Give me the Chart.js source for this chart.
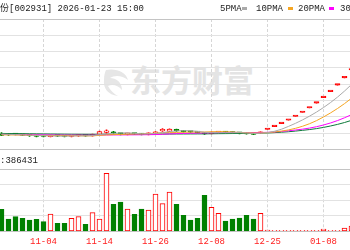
<!DOCTYPE html>
<html>
<head>
<meta charset="utf-8">
<script src="https://cdn.jsdelivr.net/npm/chart.js@4.4.1/dist/chart.umd.min.js"></script>
<style>
html, body { margin: 0; padding: 0; background: #fff; overflow: hidden; }
#wrap { position: relative; width: 350px; height: 250px; overflow: hidden;
  font-family: "Liberation Mono", monospace; font-size: 9px; color: #222; }
canvas { position: absolute; left: 0; }
#kline { top: 0; }
#vol { top: 160px; }
.t { position: absolute; white-space: nowrap; line-height: 10px; }
.sw { position: absolute; width: 5px; height: 3px; top: 7px; }
#wm { position: absolute; left: 130px; top: 63px; font: bold 31px/31px "Noto Sans CJK SC"; color: #e4e4e4; white-space: nowrap; }
#logo { position: absolute; left: 102px; top: 66px; }
</style>
</head>
<body>
<div id="wrap">
  <svg id="logo" width="28" height="32" viewBox="0 0 28 32">
    <path d="M4 4 C14 2 24 6 26 14 C20 9 12 9 8 12 C14 12 20 16 20 24 C16 19 10 18 6 20 C8 24 12 28 16 30 C6 29 1 22 2 14 C2 9 3 6 4 4 Z" fill="#e6e6e6"/>
  </svg>
  <div id="wm">东方财富</div>
  <canvas id="kline" width="350" height="160"></canvas>
  <canvas id="vol" width="350" height="90"></canvas>
  <div class="t" style="right:341px;top:3px;font-family:'Noto Sans CJK SC';font-size:9px;">锋龙股份</div>
  <div class="t" style="left:9px;top:4px;">[002931] 2026-01-23 15:00</div>
  <div class="t" style="left:220px;top:4px;">5PMA</div>
  <div class="sw" style="left:242px;background:#aaaaaa;"></div>
  <div class="t" style="left:256px;top:4px;">10PMA</div>
  <div class="sw" style="left:288px;background:#f5a623;"></div>
  <div class="t" style="left:298px;top:4px;">20PMA</div>
  <div class="sw" style="left:329px;background:#ff00ff;"></div>
  <div class="t" style="left:340px;top:4px;">30PMA</div>
  <div class="t" style="left:0px;top:156px;">:386431</div>
</div>
<script>
// trading days, the first and last ones are partly cut off by the frame
const dates = ['10-27','10-28','10-29','10-30','10-31','11-03','11-04','11-05','11-06','11-07',
  '11-10','11-11','11-12','11-13','11-14','11-17','11-18','11-19','11-20','11-21',
  '11-24','11-25','11-26','11-27','11-28','12-01','12-02','12-03','12-04','12-05',
  '12-08','12-09','12-10','12-11','12-12','12-15','12-16','12-17','12-25','12-26',
  '12-29','12-30','12-31','01-05','01-06','01-07','01-08','01-09','01-12','01-13','01-14'];
const tickLabels = ['11-04','11-14','11-26','12-08','12-25','01-08'];

const open = [16.02,16.16,15.89,15.61,15.20,14.92,14.79,14.24,14.92,14.65,
  14.31,14.65,15.13,14.72,15.75,17.13,17.54,16.23,15.82,16.37,
  16.16,15.75,16.51,18.09,17.88,19.19,18.09,17.68,17.26,16.99,
  16.30,16.99,17.40,17.06,16.78,16.51,16.16,16.57,19.14,21.05,
  23.16,25.48,28.03,30.83,33.91,37.30,41.03,45.13,49.64,54.60,60.06];
const close = [15.13,15.47,15.61,15.06,14.79,14.37,14.31,15.06,14.51,14.31,
  14.79,15.20,14.72,15.61,17.68,17.68,16.57,15.96,16.44,16.02,
  15.61,16.64,17.40,19.26,19.33,18.09,17.54,17.26,16.92,16.02,
  17.26,17.47,16.99,16.71,16.44,16.09,15.82,17.40,19.14,21.05,
  23.16,25.48,28.03,30.83,33.91,37.30,41.03,45.13,49.64,54.60,60.06];
const high = [16.92,16.51,16.16,15.89,15.47,15.20,15.13,15.34,15.13,14.86,
  15.06,15.47,15.34,15.89,17.95,18.91,17.88,16.57,16.71,16.57,
  16.44,16.85,17.68,19.81,19.60,19.46,18.36,17.88,17.47,17.19,
  17.54,17.74,17.61,17.26,16.99,16.71,16.37,17.54,19.14,21.05,
  23.16,25.48,28.03,30.83,33.91,37.30,41.03,45.13,49.64,54.60,60.06];
const low = [14.79,15.13,15.34,14.79,14.44,14.10,13.96,13.96,14.24,14.03,
  14.03,14.37,14.44,14.51,15.61,16.44,16.16,15.34,15.47,15.75,
  15.34,15.47,16.30,17.81,17.68,17.74,17.26,17.06,16.71,15.75,
  16.16,16.71,16.71,16.51,16.16,15.89,15.61,16.37,19.14,21.05,
  23.16,25.48,28.03,30.83,33.91,37.30,41.03,45.13,49.64,54.60,60.06];
const volume = [170312,95208,113045,100617,87530,92911,74326,133904,61877,61952,
  100588,113021,54236,144017,95190,449023,209046,226815,172633,131597,
  172590,164932,288771,213684,304325,209012,123897,87466,100621,278705,
  185843,139388,79702,95233,103016,123870,95219,139406,9120,5216,
  4803,4127,5634,6310,4925,5817,17806,6932,6218,24105,40012];

const ma5 = [16.00,15.80,15.60,15.40,15.21,15.06,14.83,14.72,14.61,14.51,
  14.60,14.77,14.71,14.93,15.60,16.18,16.45,16.70,16.87,16.53,
  16.12,16.13,16.42,16.99,17.65,18.14,18.32,18.30,17.83,17.17,
  17.00,16.99,16.93,16.89,16.97,16.74,16.41,16.49,16.98,17.90,
  19.31,21.25,23.37,25.71,28.28,31.11,34.22,37.64,41.40,45.54,50.09];
const ma10 = [15.45,15.40,15.35,15.25,15.15,15.05,14.98,14.95,14.90,14.86,
  14.83,14.80,14.71,14.77,15.06,15.39,15.61,15.70,15.90,16.07,
  16.15,16.29,16.56,16.93,17.09,17.13,17.23,17.36,17.41,17.41,
  17.57,17.66,17.61,17.36,17.07,16.87,16.70,16.71,16.93,17.44,
  18.03,18.83,19.93,21.34,23.09,25.21,27.73,30.51,33.56,36.91,40.60];
const ma20 = [15.70,15.66,15.62,15.57,15.52,15.46,15.40,15.36,15.32,15.28,
  15.25,15.23,15.21,15.22,15.28,15.34,15.38,15.41,15.44,15.46,
  15.49,15.55,15.64,15.85,16.07,16.26,16.42,16.53,16.65,16.74,
  16.86,16.97,17.09,17.14,17.08,17.00,16.96,17.04,17.17,17.42,
  17.80,18.24,18.77,19.35,20.08,21.04,22.22,23.61,25.25,27.17,29.31];
const ma30 = [16.40,16.35,16.30,16.24,16.18,16.12,16.06,16.00,15.95,15.90,
  15.85,15.82,15.80,15.80,15.82,15.84,15.85,15.86,15.87,15.88,
  15.90,15.92,15.95,15.98,16.00,16.03,16.05,16.07,16.09,16.11,
  16.18,16.25,16.30,16.35,16.41,16.46,16.51,16.59,16.75,16.97,
  17.25,17.59,18.04,18.54,19.08,19.74,20.55,21.53,22.63,23.92,25.40];

const up = '#ff0000';
const down = '#008000';
const xMin = -0.2143, xMax = xMin + 50;
const priceMin = 5.50, priceMax = 95.12;
const volMax = 480000;

const isUp = dates.map((d, i) => close[i] >= open[i]);
const tickIdx = tickLabels.map(l => dates.indexOf(l));

function xScale(showLabels) {
  return {
    type: 'linear', min: xMin, max: xMax, bounds: 'data', offset: false,
    afterBuildTicks: s => { s.ticks = tickIdx.map(v => ({ value: v })); },
    ticks: {
      display: showLabels, autoSkip: false, maxRotation: 0, padding: 5,
      color: '#ff2020', font: { family: 'Liberation Mono', size: 9 },
      callback: v => dates[v]
    },
    grid: { offset: false, drawTicks: false, color: '#d6d6d6' },
    border: { display: false, dash: [3, 2] },
    afterFit: s => { s.height = showLabels ? 18.7 : 0; }
  };
}
function yScale(min, max, parts) {
  return {
    min: min, max: max, bounds: 'data',
    afterBuildTicks: s => {
      s.ticks = Array.from({ length: parts + 1 }, (_, j) => ({ value: min + j * (max - min) / parts }));
    },
    ticks: { display: false },
    grid: { drawTicks: false, color: c => (c.index === 0 || c.index === parts) ? '#c4c4c4' : '#e2e2e2' },
    border: { display: false },
    afterFit: s => { s.width = 0; }
  };
}
function maLine(values, color) {
  return {
    type: 'line', order: 0, data: values.map((v, i) => ({ x: i, y: v })),
    borderColor: color, borderWidth: 1, pointRadius: 0, tension: 0, fill: false
  };
}

new Chart(document.getElementById('kline'), {
  type: 'bar',
  data: {
    datasets: [
      maLine(ma5, '#aaaaaa'),
      maLine(ma10, '#f5a623'),
      maLine(ma20, '#ff00ff'),
      maLine(ma30, '#0c7a3a'),
      {
        order: 2, grouped: false, barThickness: 5, minBarLength: 1.5,
        borderWidth: 1, borderSkipped: false,
        data: dates.map((d, i) => ({ x: i, y: [open[i], close[i]] })),
        backgroundColor: dates.map((d, i) => close[i] > open[i] ? '#ffffff' : (isUp[i] ? up : down)),
        borderColor: dates.map((d, i) => isUp[i] ? up : down)
      },
      {
        order: 3, grouped: false, barThickness: 1, borderWidth: 0,
        data: dates.map((d, i) => ({ x: i, y: [low[i], high[i]] })),
        backgroundColor: dates.map((d, i) => isUp[i] ? up : down)
      }
    ]
  },
  options: {
    responsive: false, animation: false, events: [],
    layout: { padding: { top: 19, bottom: 10.7, left: 0, right: 0 } },
    plugins: { legend: { display: false }, tooltip: { enabled: false } },
    scales: { x: xScale(false), y: yScale(priceMin, priceMax, 8) }
  }
});

new Chart(document.getElementById('vol'), {
  type: 'bar',
  data: {
    datasets: [{
      grouped: false, barThickness: 5, minBarLength: 1, borderWidth: 1, borderSkipped: false,
      data: dates.map((d, i) => ({ x: i, y: volume[i] })),
      backgroundColor: dates.map((d, i) => isUp[i] ? '#ffffff' : down),
      borderColor: dates.map((d, i) => isUp[i] ? up : down)
    }]
  },
  options: {
    responsive: false, animation: false, events: [],
    layout: { padding: { top: 9.3, bottom: 0, left: 0, right: 0 } },
    plugins: { legend: { display: false }, tooltip: { enabled: false } },
    scales: { x: xScale(true), y: yScale(0, volMax, 4) }
  }
});
</script>
</body>
</html>
